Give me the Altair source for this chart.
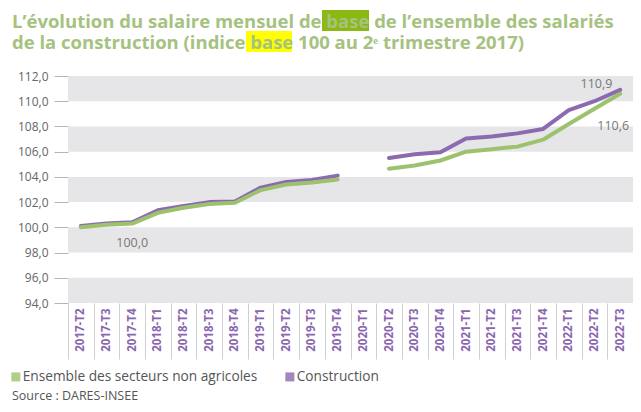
import altair as alt
import pandas as pd

quarters = ["2017-T2", "2017-T3", "2017-T4", "2018-T1", "2018-T2", "2018-T3", "2018-T4",
            "2019-T1", "2019-T2", "2019-T3", "2019-T4", "2020-T1", "2020-T2", "2020-T3",
            "2020-T4", "2021-T1", "2021-T2", "2021-T3", "2021-T4", "2022-T1", "2022-T2", "2022-T3"]
ensemble = [100.0, 100.2, 100.3, 101.15, 101.55, 101.85, 101.95, 102.95, 103.4, 103.55, 103.8,
            None, 104.65, 104.9, 105.3, 106.0, 106.2, 106.4, 106.95, 108.2, 109.4, 110.6]
construction = [100.1, 100.3, 100.4, 101.35, 101.7, 102.0, 102.05, 103.15, 103.6, 103.75, 104.1,
                None, 105.5, 105.8, 105.95, 107.05, 107.2, 107.45, 107.8, 109.3, 110.0, 110.9]
series_names = ["Ensemble des secteurs non agricoles", "Construction"]
series_colors = ["#9cc26e", "#8b6ab0"]

band_lows = [94, 98, 102, 106, 110]

label_quarters = ["2017-T4", "2022-T2", "2022-T3"]
label_values = [100.0, 110.9, 110.6]
label_texts = ["100,0", "110,9", "110,6"]

title_lines = ["L\u2019évolution du salaire mensuel de base de l\u2019ensemble des salariés",
               "de la construction (indice base 100 au 2\u1d49 trimestre 2017)"]
source_text = "Source : DARES-INSEE"

W, H = 565, 227
PL, PT = 60, 68
OX, OY = PL + 8, PT + 8   # page position of the plot origin

rows = []
for name, vals in zip(series_names, [ensemble, construction]):
    seg = 0
    for q, v in zip(quarters, vals):
        if v is None:
            seg += 1
            continue
        rows.append({"q": q, "v": v, "serie": name, "seg": seg})
df = pd.DataFrame(rows)
bands = pd.DataFrame({"lo": band_lows, "hi": [b + 2 for b in band_lows]})
labels = pd.DataFrame({"q": label_quarters, "v": label_values, "t": label_texts})

xscale = alt.Scale(domain=quarters, type="band", paddingInner=0, paddingOuter=0)
yscale = alt.Scale(domain=[94, 112], nice=False, zero=False)
cscale = alt.Scale(domain=series_names, range=series_colors)

xaxis = alt.Axis(title=None, labelAngle=-90, labelAlign="right", labelBaseline="middle",
                 labelFont="Open Sans", labelFontWeight="bold", labelFontSize=11.5,
                 labelColor="#8a66b0", labelPadding=-51, tickBand="extent", tickSize=56,
                 tickColor="#cfcfcf", tickWidth=1, domain=False, grid=False,
                 labelOverlap=False)
yaxis = alt.Axis(title=None, values=list(range(94, 113, 2)), tickCount=10,
                 labelExpr="replace(format(datum.value, '.1f'), '.', ',')",
                 labelFont="Open Sans", labelFontSize=12, labelColor="#666666",
                 labelPadding=6, tickSize=14, tickColor="#b5b5b5", domain=False, grid=False,
                 labelOverlap=False, labelBound=False, labelFlush=False)

Y = lambda f: alt.Y(f, scale=yscale, axis=yaxis)
X = lambda f: alt.X(f, scale=xscale, axis=xaxis, bandPosition=0.5, sort=quarters)

bg = alt.Chart(bands).mark_rect(color="#e6e6e8").encode(
    y=Y("lo:Q"), y2="hi:Q",
    x=alt.value(0), x2=alt.value(W),
)

# search highlights behind the word "base" in the title (page pixels)
hl = pd.DataFrame({"c": ["#8cb814", "#ffff00"],
                   "x0": [322, 246], "x1": [369, 292], "y0": [10, 31], "y1": [31, 52]})
hl_layer = alt.Chart(hl).mark_rect().encode(
    x=alt.X("px0:Q", scale=None), x2="px1:Q",
    y=alt.Y("py0:Q", scale=None), y2="py1:Q",
    color=alt.Color("c:N", scale=None),
).transform_calculate(
    px0=f"datum.x0 - {OX}", px1=f"datum.x1 - {OX}",
    py0=f"datum.y0 - {OY}", py1=f"datum.y1 - {OY}",
)

title_layer = alt.Chart(pd.DataFrame({"t": ["\n".join(title_lines)]})).mark_text(
    font="Open Sans", fontSize=18.5, fontWeight="bold", color="#a5c27f",
    align="left", baseline="alphabetic", lineBreak="\n", lineHeight=21,
).encode(x=alt.value(12 - OX), y=alt.value(28 - OY), text="t:N")

legend = alt.Legend(orient="none", legendX=-59, legendY=294, direction="horizontal",
                    symbolType="square", symbolSize=4, symbolStrokeWidth=7,
                    symbolOpacity=0.8, padding=0,
                    labelFont="Open Sans", labelFontSize=13.7, labelColor="#555555",
                    labelLimit=0, columnPadding=16, labelOffset=0)

def line_layer(name):
    return alt.Chart(df[df.serie == name]).mark_line(strokeWidth=4, strokeCap="round",
                                                      strokeJoin="round").encode(
        x=X("q:N"), y=Y("v:Q"),
        color=alt.Color("serie:N", scale=cscale, title=None, legend=legend),
        detail="seg:N",
    )

def label_layer(t, dx, dy):
    return alt.Chart(labels).transform_filter(alt.datum.t == t).mark_text(
        font="Open Sans", fontSize=12.5, color="#777777", dx=dx, dy=dy).encode(
        x=X("q:N"), y=Y("v:Q"), text="t:N",
    )

t1 = label_layer("100,0", 0, 16)
t2 = label_layer("110,9", 2, -6)
t3 = label_layer("110,6", -7, 32)

src = alt.Chart(pd.DataFrame({"t": [source_text]})).mark_text(
    font="Open Sans", fontSize=12.5, color="#555555", align="left", baseline="middle"
).encode(x=alt.value(12 - OX), y=alt.value(396 - OY), text="t:N")

chart = alt.layer(hl_layer, title_layer, bg, line_layer("Construction"),
                  line_layer(series_names[0]), t1, t2, t3, src).properties(
    width=W, height=H,
    autosize=alt.AutoSizeParams(type="none"),
    padding={"left": PL, "top": PT, "right": 0, "bottom": 101},
).configure_view(stroke=None)

chart.save("out.html", embed_options={"renderer": "svg", "actions": False})
